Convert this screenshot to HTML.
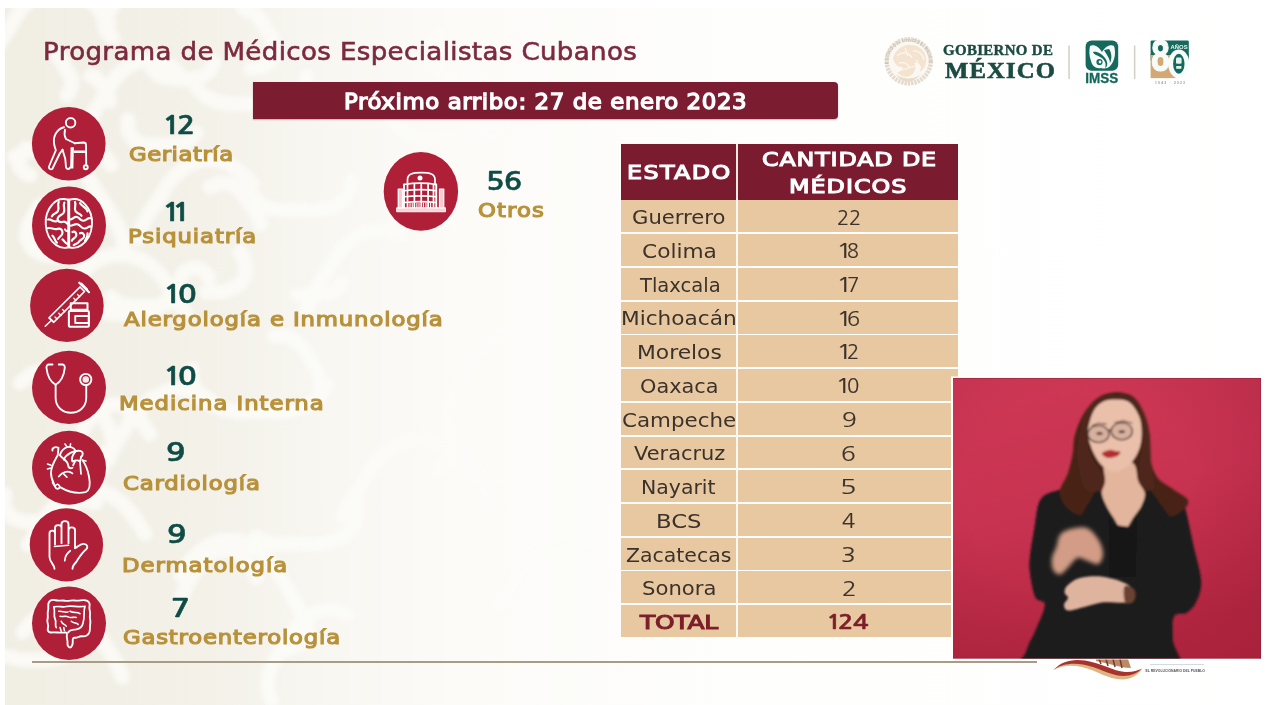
<!DOCTYPE html>
<html lang="es">
<head>
<meta charset="utf-8">
<title>Programa de Médicos Especialistas Cubanos</title>
<style>
html,body{margin:0;padding:0;background:#fff;}
body{width:1280px;height:705px;overflow:hidden;position:relative;font-family:'DejaVu Sans','Liberation Sans',sans-serif;}
#slide{position:absolute;left:0;top:0;width:1280px;height:705px;overflow:hidden;background:#fff;}
.t{position:absolute;margin:0;padding:0;line-height:1;white-space:nowrap;transform-origin:0 0;font-style:normal;display:block;}
svg{position:absolute;left:0;top:0;}
.banner{position:absolute;left:253px;top:82px;width:585px;height:37px;background:#7c1c31;border-radius:0 4px 4px 0;box-shadow:0 1px 1.5px rgba(120,30,50,.35);}
.thead{position:absolute;left:620.5px;top:143.5px;width:337.5px;height:56px;background:#7b1b30;}
.thead i{position:absolute;left:115.5px;top:0;width:1.6px;height:56px;background:#f6e9e4;}
.row{position:absolute;left:620.5px;width:337.5px;height:31.95px;background:#e8c8a0;}
.row i{position:absolute;left:115.5px;top:-1px;width:1.6px;height:35px;background:#fdf8f0;}
.rule{position:absolute;left:32px;top:661px;width:1005px;height:1.6px;background:#a89c84;}
ul,li{list-style:none;margin:0;padding:0;}
</style>
</head>
<body>
<div id="slide">

<svg id="bg" width="1280" height="705" viewBox="0 0 1280 705">
<defs>
<linearGradient id="bgg" x1="0" x2="1" y1="0" y2="0">
<stop offset="0" stop-color="#f1eee4"/><stop offset="0.16" stop-color="#f3f1e8"/><stop offset="0.26" stop-color="#f8f7f2"/><stop offset="0.36" stop-color="#fcfbf8"/><stop offset="0.6" stop-color="#fefefd"/><stop offset="1" stop-color="#ffffff"/>
</linearGradient>
<linearGradient id="fade" x1="0" x2="1" y1="0" y2="0">
<stop offset="0" stop-color="#fff" stop-opacity="0.75"/><stop offset="0.22" stop-color="#fff" stop-opacity="0.7"/><stop offset="0.4" stop-color="#fff" stop-opacity="0.3"/><stop offset="0.55" stop-color="#fff" stop-opacity="0"/>
</linearGradient>
<mask id="pm" maskUnits="userSpaceOnUse" x="0" y="0" width="1280" height="705"><rect x="5" y="8" width="1270" height="697" fill="url(#fade)"/></mask>
<filter id="bblur" x="-5%" y="-5%" width="110%" height="110%"><feGaussianBlur stdDeviation="2.2"/></filter>
</defs>
<rect x="5" y="8" width="1270" height="697" fill="url(#bgg)"/>
<g mask="url(#pm)"><path d="M-2 45 L4 36 L10 27 L15 18 L22 8 L32 -1 L44 -8 L58 -11 L72 -9 L85 -3 L95 5 L103 15 L109 24 M92 151 L87 139 L88 126 L93 114 L99 104 L105 95 L110 86 L117 76 L127 67 L139 61 L154 60 L167 64 L178 72 M307 76 L304 87 L296 96 L285 101 L273 103 L261 104 L251 104 L241 104 L230 104 L218 102 L206 97 L197 89 L193 78 M14 157 L29 151 L45 150 L61 154 L74 162 L84 172 L92 184 L98 194 L105 204 L112 215 L118 226 L123 240 L123 255 M137 239 L142 226 L148 215 L155 205 L161 196 L167 185 L176 175 L187 166 L201 160 L217 160 L231 165 L243 174 L252 184 M352 180 L351 189 L346 198 L338 205 L327 209 L317 210 L308 210 L299 210 L290 210 L280 210 L269 208 L260 203 L252 196 M61 304 L67 293 L74 282 L83 271 L95 261 L111 255 L127 255 L143 260 L156 270 L165 281 L172 292 L179 302 L186 313 M327 385 L319 398 L307 406 L292 411 L278 412 L265 412 L253 412 L239 412 L225 410 L211 405 L199 396 L193 383 L192 369 M20 383 L31 374 L45 370 L59 371 L72 376 L82 385 L89 395 L95 404 L100 413 L107 423 L112 435 L113 447 L108 460 M97 497 L97 481 L102 466 L109 453 L117 442 L124 431 L131 419 L141 407 L154 397 L170 390 L188 390 L204 396 L218 406 M355 500 L358 511 L356 521 L351 531 L341 538 L330 542 L319 544 L308 544 L299 544 L289 544 L278 544 L266 542 L256 537 M28 545 L35 535 L41 526 L47 515 L56 505 L67 496 L81 490 L97 490 L111 495 L123 504 L132 514 L139 524 L145 534 M181 576 L187 565 L196 555 L207 546 L221 540 L237 540 L251 545 L263 554 L272 564 L279 574 L285 584 L291 594 L298 605 M23 632 L30 623 L40 615 L53 610 L66 610 L78 614 L88 622 L96 631 L102 640 L107 648 L112 656 L118 666 L122 677 M272 701 L268 690 L268 678 L271 667 L277 657 L283 649 L288 641 L293 632 L300 623 L310 615 L323 610 L336 610 L348 614 M307 309 L311 298 L316 289 L321 280 L327 272 L332 264 L337 255 L344 247 L353 239 L364 232 L376 230 L389 230 L401 235 M342 516 L349 503 L357 492 L364 481 L371 469 L381 457 L394 447 L410 440 L428 440 L444 446 L458 456 L468 468 L475 479 M505 124 L496 131 L485 136 L474 137 L463 138 L453 138 L443 138 L433 138 L422 137 L410 134 L400 129 L392 120 L388 110 M463 447 L454 437 L448 426 L447 413 L450 401 L455 390 L461 380 L467 371 L473 362 L479 353 L487 343 L498 335 L511 330 M498 605 L504 596 L510 587 L515 578 L522 568 L532 559 L544 552 L558 549 L572 551 L585 557 L595 565 L603 575 L609 584 M196 133 L188 142 L177 145 L166 145 L156 145 L145 145 L134 140 L128 131 L128 120 M214 62 L211 70 L203 76 L194 79 L185 79 L177 79 L168 78 L159 76 L152 69 M56 54 L60 59 L63 63 L65 68 L68 72 L71 77 L72 83 L71 89 L67 95 M83 430 L88 421 L95 412 L105 406 L118 404 L130 409 L139 417 L144 426 L150 434 M460 78 L452 77 L443 75 L435 70 L430 63 L428 54 L431 46 L435 39 L439 33 M81 256 L69 256 L57 256 L44 255 L32 249 L26 237 L28 225 L34 215 L40 206 M342 282 L339 288 L334 292 L327 294 L321 295 L315 295 L309 295 L303 295 L297 295 M96 503 L86 501 L79 494 L77 485 L81 476 L85 470 L90 463 L97 456 L106 453 M210 187 L220 183 L230 184 L239 189 L245 196 L249 203 L254 209 L258 216 L261 224 M274 336 L286 336 L296 341 L303 348 L308 356 L312 363 L317 371 L320 380 L320 390 M472 68 L479 70 L484 73 L488 78 L491 83 L494 87 L497 92 L499 98 L500 104 M243 8 L254 13 L262 22 L267 30 L272 38 L275 49 L272 60 L263 67 L251 69 M396 215 L402 206 L410 198 L423 195 L435 199 L443 208 L448 216 L454 225 L458 235 M182 597 L187 584 L194 573 L201 563 L212 553 L228 550 L242 556 L251 567 L257 577 M71 494 L73 507 L65 518 L51 522 L39 522 L26 522 L12 518 L4 507 L5 494 M179 284 L178 294 L171 302 L160 306 L150 306 L140 306 L130 306 L119 304 L111 297 M91 76 L96 78 L99 81 L101 84 L103 87 L105 90 L107 93 L109 97 L109 101 M164 302 L155 310 L143 313 L132 314 L121 314 L109 313 L97 310 L88 302 L86 290 M291 596 L296 603 L300 610 L305 618 L308 627 L306 636 L300 644 L290 649 L280 650 M240 252 L244 259 L246 268 L245 277 L240 284 L232 289 L223 292 L214 292 L206 292 M69 176 L72 169 L76 163 L79 158 L85 152 L94 150 L102 153 L107 159 L111 165 M113 38 L106 31 L104 22 L108 13 L112 7 L116 -0 L123 -7 L132 -10 L142 -8 M438 471 L444 463 L454 458 L466 459 L475 467 L480 475 L485 483 L490 492 L488 503 M59 610 L66 620 L72 631 L73 645 L63 657 L48 660 L35 660 L21 660 L6 656 M182 276 L184 272 L188 270 L192 268 L196 268 L201 269 L204 272 L207 275 L209 278 M30 175 L25 173 L22 170 L19 167 L19 162 L20 158 L22 154 L24 151 L26 148" fill="none" stroke="#fdfdfb" stroke-width="15" stroke-linecap="round" stroke-linejoin="round" filter="url(#bblur)"/></g>
</svg>
<header>
<h1 class="t" style="left:43.0px;top:39.95px;font-family:'DejaVu Sans','Liberation Sans',sans-serif;font-weight:400;font-size:24.82px;color:#7c2a3e;letter-spacing:0.357px;transform:scaleX(1.05);-webkit-text-stroke:0.6px #7c2a3e;">Programa de Médicos Especialistas Cubanos</h1>
<svg id="logos" width="1280" height="705" viewBox="0 0 1280 705" font-family="'Liberation Sans','DejaVu Sans',sans-serif">
<defs>
<path id="sealarc" d="M 888.5 66 A 20.6 20.6 0 1 1 929 66"/>
<filter id="lsoft" x="-10%" y="-10%" width="120%" height="120%"><feGaussianBlur stdDeviation="0.45"/></filter>
</defs>
<g filter="url(#lsoft)">
<circle cx="908.7" cy="61.3" r="24.3" fill="#fbf8f3"/>
<circle cx="908.7" cy="61.3" r="22" fill="none" stroke="#e1dace" stroke-width="4.4" stroke-dasharray="2.2 1.1"/>
<text font-size="4.6" font-weight="700" fill="#c9bfae" letter-spacing="0.55"><textPath href="#sealarc" startOffset="2">ESTADOS UNIDOS MEXICANOS</textPath></text>
<path d="M893 58 C896 49 904 44 911 45 C918 45 925 50 926 58 C927 64 924 70 920 72 C922 66 918 62 914 63 C917 67 915 73 910 76 C906 78 900 76 897 72 C900 72 903 70 903 67 C899 68 894 64 893 58 Z" fill="#f3e3cf"/>
<path d="M896 74 C902 80 916 80 922 73 C918 78 912 82 908 82 C903 82 898 78 896 74 Z" fill="#e9dcc4"/>
<path d="M897 56 C902 51 909 52 912 58 M913 51 C918 50 923 54 924 60 M899 63 C904 62 908 64 910 68 M902 70 L915 66 M905 48 L908 56 M916 60 L921 68" fill="none" stroke="#fbf6ee" stroke-width="1.3"/>
</g>
<rect x="1068.3" y="45.5" width="1.5" height="33.5" fill="#d3cfc8"/>
<rect x="1133.9" y="45.5" width="1.5" height="33.5" fill="#d3cfc8"/>
<g filter="url(#lsoft)">
<rect x="1085.6" y="40.6" width="32.6" height="30.2" rx="6" fill="#12695b"/>
<path d="M1090 46 C1094 44 1099 47 1102 52 C1105 47 1110 44 1114 46 C1116 52 1115 60 1111 65 C1108 69 1104 69 1101 68 C1096 69 1092 66 1091 61 C1089 56 1089 50 1090 46 Z" fill="#f4fbf8"/>
<path d="M1093 52 C1097 51 1102 54 1105 58 C1108 62 1108 66 1105 68 C1107 63 1104 59 1100 57 C1097 55 1094 55 1093 52 Z" fill="#12695b"/>
<path d="M1104 50 C1106 54 1110 58 1110 63 C1112 59 1112 53 1109 49 Z" fill="#12695b"/>
<circle cx="1099.5" cy="62" r="3.1" fill="#12695b"/>
<circle cx="1100" cy="62" r="1.4" fill="#f4fbf8"/>
</g>
<text x="1085.3" y="82.7" font-size="15.2" font-weight="700" fill="#12695b" stroke="#12695b" stroke-width="0.3" textLength="33" lengthAdjust="spacingAndGlyphs">IMSS</text>
<g filter="url(#lsoft)">
<rect x="1150.6" y="40.6" width="38.2" height="15.4" rx="1.2" fill="#12695b"/>
<rect x="1150.6" y="54.5" width="38.2" height="6" fill="#12695b"/>
<rect x="1150.6" y="55" width="25" height="23.1" fill="#d4a874"/>
</g>
<text x="1151.2" y="71.4" font-size="43.5" font-weight="700" fill="#f7fcfa" stroke="#f7fcfa" stroke-width="1.2" textLength="18.5" lengthAdjust="spacingAndGlyphs">8</text>
<g filter="url(#lsoft)">
<ellipse cx="1178.8" cy="63.8" rx="10.6" ry="14.3" fill="#f7fcfa"/>
<ellipse cx="1178.8" cy="63.8" rx="5.7" ry="10" fill="#12695b"/>
<rect x="1176" y="57.6" width="5.6" height="6.2" rx="1.3" fill="#e4f2ec"/>
<rect x="1176.2" y="66" width="5.2" height="2.8" fill="#e4f2ec"/>
</g>
<text x="1170.6" y="48.7" font-size="5.3" font-weight="700" fill="#eef7f3" textLength="17" lengthAdjust="spacingAndGlyphs">AÑOS</text>
<text x="1155" y="83.6" font-size="3.4" font-weight="700" fill="#9a9a98" textLength="30" lengthAdjust="spacing">1943 · 2023</text>
</svg>
<span class="t" style="left:943.4px;top:43.53px;font-family:'Liberation Serif','DejaVu Serif',serif;font-weight:700;font-size:13.82px;color:#1b4b41;letter-spacing:0.315px;transform:scaleX(1.08);-webkit-text-stroke:0.4px #1b4b41;">GOBIERNO DE</span>
<span class="t" style="left:944.7px;top:60.12px;font-family:'Liberation Serif','DejaVu Serif',serif;font-weight:700;font-size:22.03px;color:#1b4b41;letter-spacing:1.054px;transform:scaleX(1.12);-webkit-text-stroke:0.6px #1b4b41;">MÉXICO</span>
</header>
<div class="banner"></div>
<span class="t" style="left:343.5px;top:91.85px;font-family:'DejaVu Sans','Liberation Sans',sans-serif;font-weight:400;font-size:20.77px;color:#fff;letter-spacing:0.543px;transform:scaleX(1.1);-webkit-text-stroke:1.3px #fff;">Próximo arribo: 27 de enero 2023</span>
<section class="specialties"><ul>
<svg id="icons" width="1280" height="705" viewBox="0 0 1280 705"><ellipse cx="68.75" cy="143.75" rx="36.85" ry="36.85" fill="#af1f38"/>
<g transform="translate(0 100) scale(0.125)" fill="none" stroke="#fff" stroke-width="15" stroke-linecap="round" stroke-linejoin="round">
<circle cx="565" cy="182" r="38"/>
<path d="M512 218 C462 228 424 282 432 345 C435 372 442 388 447 402 L392 532 C388 548 402 560 418 552 L478 428 L500 398"/>
<path d="M500 398 L522 470 L528 538 C532 556 556 556 560 540"/>
<path d="M520 238 C514 262 516 290 528 312 L598 346"/>
<path d="M598 346 L668 340 C682 340 688 348 688 360 L690 520"/>
<circle cx="686" cy="538" r="16"/>
<path d="M578 378 L574 548" stroke-width="26" stroke-linecap="butt"/>
<path d="M590 414 L686 414" stroke-width="20" stroke-linecap="butt"/>
</g>
<ellipse cx="69" cy="225.4" rx="37" ry="39" fill="#af1f38"/>
<g transform="translate(0 182) scale(0.125)" fill="none" stroke="#fff" stroke-width="15" stroke-linecap="round" stroke-linejoin="round">
<path d="M546 142 C500 128 452 140 418 180 C380 222 362 280 366 340 C370 410 400 470 450 505 C480 526 520 530 546 522 Z" stroke-width="15"/>
<path d="M554 142 C600 128 648 140 682 180 C720 222 740 280 736 340 C732 410 702 470 652 505 C622 526 582 530 554 522 Z" stroke-width="15"/>
<path d="M550 140 L550 524" stroke-width="15"/>
<path d="M470 160 C455 190 480 205 462 235 C450 255 425 250 415 275 M515 165 C500 195 525 215 510 245 C498 268 470 262 462 290 C455 315 480 325 505 318 C525 312 535 330 545 340 M385 300 C410 295 425 320 450 315 M380 370 C410 360 430 385 460 375 C485 367 500 385 500 405 C500 430 475 435 465 455 M420 430 C440 445 435 470 455 485 M500 460 C515 470 520 490 540 495 M520 380 C530 395 540 395 548 392" stroke-width="17.5"/>
<path d="M600 160 C612 190 588 205 605 235 C618 255 640 248 652 270 M640 170 C655 195 690 200 700 235 M560 300 C585 300 590 275 615 280 C640 285 640 310 665 310 C690 310 700 285 722 290 M560 350 C590 350 600 330 625 340 C650 350 650 375 680 372 C700 370 710 350 730 355 M580 400 C600 390 615 410 610 430 C605 450 580 450 575 470 M640 410 C660 400 680 420 672 440 C665 460 640 460 630 480 C622 495 600 495 590 505 M700 410 C705 430 690 450 680 470" stroke-width="17.5"/>
</g>
<ellipse cx="66.9" cy="305.4" rx="36.8" ry="36.6" fill="#af1f38"/>
<g transform="translate(0 262) scale(0.125)" fill="none" stroke="#fff" stroke-width="15" stroke-linecap="round" stroke-linejoin="round">
<path d="M362 514 L412 466" stroke-width="12.5"/>
<path d="M392 446 L640 200 L676 236 L430 482 Z" stroke-width="13.8"/>
<path d="M634 166 L712 242" stroke-width="17.5"/>
<path d="M652 170 L700 218" stroke-width="10"/>
<path d="M470 410 L488 428 M500 380 L518 398 M590 290 L608 308 M620 260 L638 278 M440 440 L456 456" stroke-width="10"/>
<rect x="566" y="330" width="134" height="52" stroke-width="16.2"/>
<rect x="551" y="392" width="160" height="126" rx="8" stroke-width="16.2"/>
<rect x="602" y="432" width="108" height="56" stroke-width="15"/>
</g>
<ellipse cx="69" cy="387.4" rx="37" ry="36.6" fill="#af1f38"/>
<g transform="translate(0 344) scale(0.125)" fill="none" stroke="#fff" stroke-width="15" stroke-linecap="round" stroke-linejoin="round">
<path d="M420 164 L392 164 C378 164 370 176 372 192 C378 250 400 300 445 326 C490 300 512 250 518 192 C520 176 512 164 498 164 L470 164"/>
<path d="M445 326 L445 430 C445 590 690 590 690 430 L690 330"/>
<circle cx="686" cy="284" r="45" />
<circle cx="686" cy="284" r="26" fill="#fbe9ea" stroke="none"/>
</g>
<ellipse cx="69" cy="467.75" rx="37" ry="36.9" fill="#af1f38"/>
<g transform="translate(0 424) scale(0.125)" fill="none" stroke="#fff" stroke-width="15" stroke-linecap="round" stroke-linejoin="round">
<path d="M420 212 C415 190 440 178 468 190 L462 250 C440 290 410 330 408 390 C406 440 430 470 440 500 C450 530 470 520 480 505 C540 540 620 560 685 545 C720 530 722 470 712 420 C702 370 690 330 660 290"/>
<path d="M440 500 L420 470 M480 505 C470 480 455 470 440 500" stroke-width="12.5"/>
<path d="M480 250 C490 200 540 170 580 190 C600 200 605 215 600 225"/>
<path d="M510 285 C530 240 590 210 640 215 C670 220 665 250 650 262"/>
<path d="M520 160 L535 182 M565 158 L560 182" stroke-width="12.5"/>
<path d="M480 250 C500 280 540 290 545 330 C548 350 560 360 580 350"/>
<path d="M600 225 C580 250 570 280 580 300 C600 290 620 285 640 300 L650 262"/>
<path d="M640 300 L648 400 M600 300 L585 330" stroke-width="13.8"/>
<path d="M470 420 C500 380 550 370 580 395 M510 400 L535 425" stroke-width="13.8"/>
<path d="M380 320 L408 330 M380 360 L408 352 M660 290 L688 296" stroke-width="12.5"/>
</g>
<ellipse cx="66.4" cy="544.8" rx="36.7" ry="36.6" fill="#af1f38"/>
<g transform="translate(0 502) scale(0.125)" fill="none" stroke="#fff" stroke-width="15" stroke-linecap="round" stroke-linejoin="round">
<path d="M436 534 C436 500 396 480 396 440 L396 250 C396 222 440 222 440 250 L440 340 M440 250 L440 205 C440 178 492 178 492 205 L492 330 M492 205 L492 175 C492 145 548 145 548 175 L548 330 M548 225 C548 195 600 195 600 225 L600 370 C630 350 650 330 672 335 C700 340 706 362 690 378 C650 410 630 450 610 480 C590 500 580 510 580 534"/>
<path d="M436 356 L548 346" stroke-width="13.8"/>
<path d="M562 390 C535 410 520 440 518 470" stroke-width="13.8"/>
</g>
<ellipse cx="69" cy="623.25" rx="37" ry="36.75" fill="#af1f38"/>
<g transform="translate(0 580) scale(0.125)" fill="none" stroke="#fff" stroke-width="15" stroke-linecap="round" stroke-linejoin="round">
<path d="M520 420 C480 425 440 415 410 420 C385 422 378 400 384 380 C392 355 372 340 380 315 C388 290 376 270 384 245 C392 220 380 200 390 180 C400 160 420 155 445 162 C470 170 495 160 520 166 C550 172 575 158 600 164 C630 170 655 158 680 162 C710 166 722 185 716 210 C710 235 726 255 720 280 C714 305 728 325 722 350 C716 375 726 400 712 425 C700 445 680 455 655 450 C635 446 620 465 600 462 C585 460 580 470 582 490 C584 515 572 540 560 540 C545 540 538 520 540 500 C542 480 530 460 535 440 C538 425 530 418 520 420 Z" stroke-width="15"/>
<path d="M430 215 C470 205 500 222 530 212 C570 200 620 220 680 210 M430 215 C445 250 425 280 440 310 C455 340 435 360 450 380 M680 210 C665 250 680 300 665 340 C660 370 640 390 610 395 C585 400 560 395 545 420" stroke-width="13.8"/>
<path d="M470 250 C500 245 520 265 545 255 M480 290 C510 300 520 280 545 295 C570 310 590 290 610 300 M490 330 C500 360 520 350 530 370 M560 250 C590 270 620 250 640 270 M570 330 C590 350 610 340 625 355 M480 380 L490 410 M510 380 L515 405" stroke-width="12.5"/>
</g>
<ellipse cx="420.9" cy="191.4" rx="37.2" ry="39.4" fill="#af1f38"/>
<g transform="translate(340 147) scale(0.125)" fill="none" stroke="#fff" stroke-width="15" stroke-linecap="round" stroke-linejoin="round">
<rect x="456" y="486" width="388" height="32" fill="#f7d5d8" stroke="#fff" stroke-width="7.5"/>
<rect x="466" y="336" width="34" height="150" fill="#f5c9cd" stroke="#fff" stroke-width="10"/>
<rect x="796" y="336" width="34" height="150" fill="#f5c9cd" stroke="#fff" stroke-width="10"/>
<path d="M512 486 L512 300 M770 486 L770 300" stroke-width="15"/>
<path d="M540 300 L540 262 C540 215 580 205 650 205 C720 205 760 215 760 262 L760 300" stroke-width="13.8"/>
<circle cx="640" cy="248" r="20" fill="#fff" stroke="none"/>
<path d="M540 486 L540 300 M595 486 L595 300 M650 486 L650 300 M705 486 L705 300 M748 486 L748 300" stroke-width="13.8"/>
<path d="M512 300 C600 285 690 285 770 300 M512 350 C600 338 690 338 770 350 M512 398 C600 388 690 388 770 398 M512 444 C600 436 690 436 770 444" stroke-width="13.8"/>
<path d="M560 486 L560 450 M578 486 L578 450 M615 486 L615 450 M632 486 L632 450 M668 486 L668 450 M688 486 L688 450 M725 486 L725 450" stroke-width="8.8"/>
</g></svg>
<li><b><span class="t" style="left:161.8px;top:113.28px;font-family:'NanumGothic','Liberation Sans',sans-serif;font-weight:700;font-size:25.23px;color:#0e4c45;transform:scaleX(1.2357);-webkit-text-stroke:0.5px #0e4c45;">1</span><span class="t" style="left:176.75px;top:113.28px;font-family:'NanumGothic','Liberation Sans',sans-serif;font-weight:700;font-size:25.23px;color:#0e4c45;transform:scaleX(1.1875);-webkit-text-stroke:0.5px #0e4c45;">2</span></b><span class="t" style="left:128.5px;top:145.2px;font-family:'DejaVu Sans','Liberation Sans',sans-serif;font-weight:400;font-size:19.29px;color:#b8913a;letter-spacing:0.456px;transform:scaleX(1.18);-webkit-text-stroke:1.15px #b8913a;">Geriatría</span></li>
<li><b><span class="t" style="left:162.25px;top:200.08px;font-family:'NanumGothic','Liberation Sans',sans-serif;font-weight:700;font-size:25.23px;color:#0e4c45;transform:scaleX(1.2357);-webkit-text-stroke:0.5px #0e4c45;">1</span><span class="t" style="left:172.35px;top:200.08px;font-family:'NanumGothic','Liberation Sans',sans-serif;font-weight:700;font-size:25.23px;color:#0e4c45;transform:scaleX(1.2357);-webkit-text-stroke:0.5px #0e4c45;">1</span></b><span class="t" style="left:128.0px;top:227.1px;font-family:'DejaVu Sans','Liberation Sans',sans-serif;font-weight:400;font-size:19.29px;color:#b8913a;letter-spacing:0.763px;transform:scaleX(1.18);-webkit-text-stroke:1.15px #b8913a;">Psiquiatría</span></li>
<li><b><span class="t" style="left:162.7px;top:281.78px;font-family:'NanumGothic','Liberation Sans',sans-serif;font-weight:700;font-size:25.23px;color:#0e4c45;transform:scaleX(1.2357);-webkit-text-stroke:0.5px #0e4c45;">1</span><span class="t" style="left:177.75px;top:281.78px;font-family:'NanumGothic','Liberation Sans',sans-serif;font-weight:700;font-size:25.23px;color:#0e4c45;transform:scaleX(1.2192);-webkit-text-stroke:0.5px #0e4c45;">0</span></b><span class="t" style="left:123.7px;top:310.3px;font-family:'DejaVu Sans','Liberation Sans',sans-serif;font-weight:400;font-size:19.29px;color:#b8913a;letter-spacing:0.743px;transform:scaleX(1.18);-webkit-text-stroke:1.15px #b8913a;">Alergología e Inmunología</span></li>
<li><b><span class="t" style="left:162.7px;top:364.18px;font-family:'NanumGothic','Liberation Sans',sans-serif;font-weight:700;font-size:25.23px;color:#0e4c45;transform:scaleX(1.2357);-webkit-text-stroke:0.5px #0e4c45;">1</span><span class="t" style="left:177.75px;top:364.18px;font-family:'NanumGothic','Liberation Sans',sans-serif;font-weight:700;font-size:25.23px;color:#0e4c45;transform:scaleX(1.2192);-webkit-text-stroke:0.5px #0e4c45;">0</span></b><span class="t" style="left:118.5px;top:394.0px;font-family:'DejaVu Sans','Liberation Sans',sans-serif;font-weight:400;font-size:19.29px;color:#b8913a;letter-spacing:0.819px;transform:scaleX(1.18);-webkit-text-stroke:1.15px #b8913a;">Medicina Interna</span></li>
<li><b><span class="t" style="left:166.0px;top:440.48px;font-family:'NanumGothic','Liberation Sans',sans-serif;font-weight:700;font-size:25.23px;color:#0e4c45;transform:scaleX(1.2692);-webkit-text-stroke:0.5px #0e4c45;">9</span></b><span class="t" style="left:123.25px;top:474.0px;font-family:'DejaVu Sans','Liberation Sans',sans-serif;font-weight:400;font-size:19.29px;color:#b8913a;letter-spacing:0.72px;transform:scaleX(1.18);-webkit-text-stroke:1.15px #b8913a;">Cardiología</span></li>
<li><b><span class="t" style="left:167.4px;top:522.18px;font-family:'NanumGothic','Liberation Sans',sans-serif;font-weight:700;font-size:25.23px;color:#0e4c45;transform:scaleX(1.2692);-webkit-text-stroke:0.5px #0e4c45;">9</span></b><span class="t" style="left:122.4px;top:556.1px;font-family:'DejaVu Sans','Liberation Sans',sans-serif;font-weight:400;font-size:19.29px;color:#b8913a;letter-spacing:0.836px;transform:scaleX(1.18);-webkit-text-stroke:1.15px #b8913a;">Dermatología</span></li>
<li><b><span class="t" style="left:170.7px;top:596.38px;font-family:'NanumGothic','Liberation Sans',sans-serif;font-weight:700;font-size:25.23px;color:#0e4c45;transform:scaleX(1.2308);-webkit-text-stroke:0.5px #0e4c45;">7</span></b><span class="t" style="left:123.1px;top:627.7px;font-family:'DejaVu Sans','Liberation Sans',sans-serif;font-weight:400;font-size:19.29px;color:#b8913a;letter-spacing:0.683px;transform:scaleX(1.18);-webkit-text-stroke:1.15px #b8913a;">Gastroenterología</span></li>
<li><b><span class="t" style="left:485.75px;top:169.33px;font-family:'NanumGothic','Liberation Sans',sans-serif;font-weight:700;font-size:25.23px;color:#0e4c45;transform:scaleX(1.2042);-webkit-text-stroke:0.5px #0e4c45;">5</span><span class="t" style="left:504.0px;top:169.33px;font-family:'NanumGothic','Liberation Sans',sans-serif;font-weight:700;font-size:25.23px;color:#0e4c45;transform:scaleX(1.1731);-webkit-text-stroke:0.5px #0e4c45;">6</span></b><span class="t" style="left:477.75px;top:201.0px;font-family:'DejaVu Sans','Liberation Sans',sans-serif;font-weight:400;font-size:19.29px;color:#b8913a;letter-spacing:0.953px;transform:scaleX(1.18);-webkit-text-stroke:1.15px #b8913a;">Otros</span></li>
</ul></section>
<section class="table">
<div class="thead"><i></i></div>
<span class="t" style="left:626.75px;top:163.46px;font-family:'DejaVu Sans','Liberation Sans',sans-serif;font-weight:400;font-size:19.21px;color:#fff;letter-spacing:1.129px;transform:scaleX(1.24);-webkit-text-stroke:1.1px #fff;">ESTADO</span>
<span class="t" style="left:761.5px;top:150.06px;font-family:'DejaVu Sans','Liberation Sans',sans-serif;font-weight:400;font-size:19.21px;color:#fff;letter-spacing:0.685px;transform:scaleX(1.24);-webkit-text-stroke:1.1px #fff;">CANTIDAD DE</span>
<span class="t" style="left:789.0px;top:177.06px;font-family:'DejaVu Sans','Liberation Sans',sans-serif;font-weight:400;font-size:19.21px;color:#fff;letter-spacing:0.806px;transform:scaleX(1.24);-webkit-text-stroke:1.1px #fff;">MÉDICOS</span>
<div class="row" style="top:200.40px"><i></i></div>
<div class="row" style="top:234.13px"><i></i></div>
<div class="row" style="top:267.86px"><i></i></div>
<div class="row" style="top:301.59px"><i></i></div>
<div class="row" style="top:335.32px"><i></i></div>
<div class="row" style="top:369.05px"><i></i></div>
<div class="row" style="top:402.78px"><i></i></div>
<div class="row" style="top:436.51px"><i></i></div>
<div class="row" style="top:470.24px"><i></i></div>
<div class="row" style="top:503.97px"><i></i></div>
<div class="row" style="top:537.70px"><i></i></div>
<div class="row" style="top:571.43px"><i></i></div>
<div class="row" style="top:605.16px"><i></i></div>
<span class="t" style="left:631.5px;top:208.29px;font-family:'DejaVu Sans','Liberation Sans',sans-serif;font-weight:400;font-size:19.18px;color:#3b322b;transform:scaleX(1.1024);">Guerrero</span>
<span><span class="t" style="left:837.07px;top:208.52px;font-family:'NanumGothic','DejaVu Sans',sans-serif;font-weight:400;font-size:19.05px;color:#3b322b;transform:scaleX(1.0642);-webkit-text-stroke:0.15px #3b322b;">2</span><span class="t" style="left:849.35px;top:208.52px;font-family:'NanumGothic','DejaVu Sans',sans-serif;font-weight:400;font-size:19.05px;color:#3b322b;transform:scaleX(1.0642);-webkit-text-stroke:0.15px #3b322b;">2</span></span>
<span class="t" style="left:641.5px;top:242.02px;font-family:'DejaVu Sans','Liberation Sans',sans-serif;font-weight:400;font-size:19.18px;color:#3b322b;transform:scaleX(1.131);">Colima</span>
<span><span class="t" style="left:835.64px;top:242.25px;font-family:'NanumGothic','DejaVu Sans',sans-serif;font-weight:400;font-size:19.05px;color:#3b322b;transform:scaleX(1.4425);-webkit-text-stroke:0.15px #3b322b;">1</span><span class="t" style="left:847.11px;top:242.25px;font-family:'NanumGothic','DejaVu Sans',sans-serif;font-weight:400;font-size:19.05px;color:#3b322b;transform:scaleX(1.0258);-webkit-text-stroke:0.15px #3b322b;">8</span></span>
<span class="t" style="left:639.5px;top:275.75px;font-family:'DejaVu Sans','Liberation Sans',sans-serif;font-weight:400;font-size:19.18px;color:#3b322b;transform:scaleX(1.0195);">Tlaxcala</span>
<span><span class="t" style="left:835.91px;top:275.98px;font-family:'NanumGothic','DejaVu Sans',sans-serif;font-weight:400;font-size:19.05px;color:#3b322b;transform:scaleX(1.4425);-webkit-text-stroke:0.15px #3b322b;">1</span><span class="t" style="left:847.38px;top:275.98px;font-family:'NanumGothic','DejaVu Sans',sans-serif;font-weight:400;font-size:19.05px;color:#3b322b;transform:scaleX(1.0793);-webkit-text-stroke:0.15px #3b322b;">7</span></span>
<span class="t" style="left:620.5px;top:309.48px;font-family:'DejaVu Sans','Liberation Sans',sans-serif;font-weight:400;font-size:19.18px;color:#3b322b;transform:scaleX(1.1288);">Michoacán</span>
<span><span class="t" style="left:835.64px;top:309.71px;font-family:'NanumGothic','DejaVu Sans',sans-serif;font-weight:400;font-size:19.05px;color:#3b322b;transform:scaleX(1.4425);-webkit-text-stroke:0.15px #3b322b;">1</span><span class="t" style="left:847.11px;top:309.71px;font-family:'NanumGothic','DejaVu Sans',sans-serif;font-weight:400;font-size:19.05px;color:#3b322b;transform:scaleX(1.1398);-webkit-text-stroke:0.15px #3b322b;">6</span></span>
<span class="t" style="left:636.75px;top:343.21px;font-family:'DejaVu Sans','Liberation Sans',sans-serif;font-weight:400;font-size:19.18px;color:#3b322b;transform:scaleX(1.1373);">Morelos</span>
<span><span class="t" style="left:835.98px;top:343.44px;font-family:'NanumGothic','DejaVu Sans',sans-serif;font-weight:400;font-size:19.05px;color:#3b322b;transform:scaleX(1.4425);-webkit-text-stroke:0.15px #3b322b;">1</span><span class="t" style="left:847.45px;top:343.44px;font-family:'NanumGothic','DejaVu Sans',sans-serif;font-weight:400;font-size:19.05px;color:#3b322b;transform:scaleX(1.0642);-webkit-text-stroke:0.15px #3b322b;">2</span></span>
<span class="t" style="left:639.75px;top:376.94px;font-family:'DejaVu Sans','Liberation Sans',sans-serif;font-weight:400;font-size:19.18px;color:#3b322b;transform:scaleX(1.087);">Oaxaca</span>
<span><span class="t" style="left:835.43px;top:377.17px;font-family:'NanumGothic','DejaVu Sans',sans-serif;font-weight:400;font-size:19.05px;color:#3b322b;transform:scaleX(1.4425);-webkit-text-stroke:0.15px #3b322b;">1</span><span class="t" style="left:846.9px;top:377.17px;font-family:'NanumGothic','DejaVu Sans',sans-serif;font-weight:400;font-size:19.05px;color:#3b322b;transform:scaleX(1.0666);-webkit-text-stroke:0.15px #3b322b;">0</span></span>
<span class="t" style="left:621.5px;top:410.67px;font-family:'DejaVu Sans','Liberation Sans',sans-serif;font-weight:400;font-size:19.18px;color:#3b322b;transform:scaleX(1.1175);">Campeche</span>
<span><span class="t" style="left:842.25px;top:410.9px;font-family:'NanumGothic','DejaVu Sans',sans-serif;font-weight:400;font-size:19.05px;color:#3b322b;transform:scaleX(1.2778);-webkit-text-stroke:0.15px #3b322b;">9</span></span>
<span class="t" style="left:633.75px;top:444.4px;font-family:'DejaVu Sans','Liberation Sans',sans-serif;font-weight:400;font-size:19.18px;color:#3b322b;transform:scaleX(1.0904);">Veracruz</span>
<span><span class="t" style="left:841.25px;top:444.63px;font-family:'NanumGothic','DejaVu Sans',sans-serif;font-weight:400;font-size:19.05px;color:#3b322b;transform:scaleX(1.2778);-webkit-text-stroke:0.15px #3b322b;">6</span></span>
<span class="t" style="left:640.5px;top:478.13px;font-family:'DejaVu Sans','Liberation Sans',sans-serif;font-weight:400;font-size:19.18px;color:#3b322b;transform:scaleX(1.0662);">Nayarit</span>
<span><span class="t" style="left:840.25px;top:478.36px;font-family:'NanumGothic','DejaVu Sans',sans-serif;font-weight:400;font-size:19.05px;color:#3b322b;transform:scaleX(1.4375);-webkit-text-stroke:0.15px #3b322b;">5</span></span>
<span class="t" style="left:656.0px;top:511.86px;font-family:'DejaVu Sans','Liberation Sans',sans-serif;font-weight:400;font-size:19.18px;color:#3b322b;transform:scaleX(1.1857);">BCS</span>
<span><span class="t" style="left:842.25px;top:512.09px;font-family:'NanumGothic','DejaVu Sans',sans-serif;font-weight:400;font-size:19.05px;color:#3b322b;transform:scaleX(1.15);-webkit-text-stroke:0.15px #3b322b;">4</span></span>
<span class="t" style="left:626.0px;top:545.59px;font-family:'DejaVu Sans','Liberation Sans',sans-serif;font-weight:400;font-size:19.18px;color:#3b322b;transform:scaleX(1.067);">Zacatecas</span>
<span><span class="t" style="left:841.25px;top:545.82px;font-family:'NanumGothic','DejaVu Sans',sans-serif;font-weight:400;font-size:19.05px;color:#3b322b;transform:scaleX(1.2778);-webkit-text-stroke:0.15px #3b322b;">3</span></span>
<span class="t" style="left:641.5px;top:579.32px;font-family:'DejaVu Sans','Liberation Sans',sans-serif;font-weight:400;font-size:19.18px;color:#3b322b;transform:scaleX(1.1038);">Sonora</span>
<span><span class="t" style="left:842.25px;top:579.55px;font-family:'NanumGothic','DejaVu Sans',sans-serif;font-weight:400;font-size:19.05px;color:#3b322b;transform:scaleX(1.2778);-webkit-text-stroke:0.15px #3b322b;">2</span></span>
<span class="t" style="left:639.75px;top:612.86px;font-family:'DejaVu Sans','Liberation Sans',sans-serif;font-weight:400;font-size:19.21px;color:#7b1f2a;letter-spacing:-0.192px;transform:scaleX(1.3);-webkit-text-stroke:1.1px #7b1f2a;">TOTAL</span>
<b><span class="t" style="left:826.4px;top:612.63px;font-family:'NanumGothic','Liberation Sans',sans-serif;font-weight:700;font-size:19.97px;color:#7b1f2a;transform:scaleX(1.3);-webkit-text-stroke:0.4px #7b1f2a;">1</span><span class="t" style="left:837.6px;top:612.63px;font-family:'NanumGothic','Liberation Sans',sans-serif;font-weight:700;font-size:19.97px;color:#7b1f2a;transform:scaleX(1.27);-webkit-text-stroke:0.4px #7b1f2a;">2</span><span class="t" style="left:852.5px;top:612.63px;font-family:'NanumGothic','Liberation Sans',sans-serif;font-weight:700;font-size:19.97px;color:#7b1f2a;transform:scaleX(1.3);-webkit-text-stroke:0.4px #7b1f2a;">4</span></b>
</section>
<div class="rule"></div>
<footer><svg id="foot" width="1280" height="705" viewBox="0 0 1280 705" font-family="'Liberation Sans','DejaVu Sans',sans-serif">
<defs><filter id="fsoft" x="-10%" y="-30%" width="120%" height="160%"><feGaussianBlur stdDeviation="0.5"/></filter></defs>
<g filter="url(#fsoft)">
<path d="M1053 670.5 C1060 663 1070 659 1084 661.5 C1100 664 1112 673 1124 674 C1131 674.5 1137 672 1142 669 C1138 675 1131 679.5 1122 679.5 C1108 679.5 1096 670 1082 667 C1070 664.5 1060 666 1053 670.5 Z" fill="#dcb583"/>
<path d="M1054 669.5 C1061 662 1071 658.5 1085 660.5 C1101 663 1113 671 1125 672 C1132 672.5 1138 670.5 1142 668.5 C1138 673 1131 676 1123 676 C1109 675.5 1098 667 1083 664.5 C1071 662.5 1061 664.5 1054 669.5 Z" fill="#a8322f"/>
<path d="M1096 659 L1128 659 L1131 668 C1120 668 1108 663 1096 661 Z" fill="#b98a68"/>
<path d="M1099 659 L1101 664 M1106 659 L1108 666 M1113 659 L1115 667 M1120 659 L1122 668" stroke="#7c3a2c" stroke-width="1.5"/>
</g>
<rect x="1150" y="664" width="54" height="0.8" fill="#c9d2da"/>
<text x="1145.6" y="671.6" font-size="3.3" font-weight="700" fill="#55555a" textLength="59.4" lengthAdjust="spacingAndGlyphs">EL REVOLUCIONARIO DEL PUEBLO</text>
</svg></footer>
<svg id="video" width="1280" height="705" viewBox="0 0 1280 705">
<defs>
<linearGradient id="vbg" x1="0" y1="0" x2="0.25" y2="1"><stop offset="0" stop-color="#ce3855"/><stop offset="0.5" stop-color="#c83351"/><stop offset="1" stop-color="#b52741"/></linearGradient>
<radialGradient id="vig" cx="0.4" cy="0.4" r="0.8"><stop offset="0.45" stop-color="#8c1530" stop-opacity="0"/><stop offset="1" stop-color="#8c1530" stop-opacity="0.28"/></radialGradient>
<clipPath id="vclip"><rect x="953" y="378" width="308" height="280.5"/></clipPath>
<filter id="soft" x="-10%" y="-10%" width="120%" height="120%"><feGaussianBlur stdDeviation="1.0"/></filter>
<filter id="soft2" x="-20%" y="-20%" width="140%" height="140%"><feGaussianBlur stdDeviation="2"/></filter>
</defs>
<rect x="951" y="376.5" width="311.5" height="283" fill="#fff"/>
<rect x="953" y="378" width="308" height="280.5" fill="url(#vbg)"/>
<rect x="953" y="378" width="308" height="280.5" fill="url(#vig)"/>
<path d="M953 378.4 H1261 M1260.6 378 V658.5 M953 658.1 H1261" stroke="#7a2238" stroke-opacity="0.45" stroke-width="0.9" fill="none"/>
<g clip-path="url(#vclip)">
<g filter="url(#soft)">
<path d="M1040.2 500.0 C1043.9 493.8 1048.8 493.0 1056.5 490.7 C1064.2 488.4 1078.2 483.7 1086.7 486.0 C1095.2 488.3 1102.3 498.1 1107.7 504.7 C1113.1 511.3 1114.7 525.2 1119.3 525.6 C1123.9 526.0 1130.6 513.6 1135.6 507.0 C1140.6 500.4 1143.3 488.3 1149.5 486.0 C1155.7 483.7 1167.2 490.3 1172.8 493.0 C1178.4 495.7 1179.8 493.4 1183.3 502.3 C1186.8 511.2 1190.7 533.3 1193.7 546.5 C1196.7 559.7 1200.8 572.1 1201.2 581.4 C1201.6 590.7 1198.4 597.1 1196.0 602.3 C1193.6 607.5 1190.4 610.5 1186.7 612.8 C1183.0 615.1 1176.3 611.8 1174.0 616.3 C1171.7 620.8 1172.9 627.9 1172.8 639.5 C1172.7 651.1 1198.9 678.2 1173.3 686.0 C1147.7 693.8 1043.8 691.8 1019.3 686.0 C994.8 680.2 1023.6 660.5 1026.3 651.2 C1029.0 641.9 1032.5 638.0 1035.6 630.2 C1038.7 622.5 1044.9 610.1 1044.9 604.7 C1044.9 599.3 1038.0 602.4 1035.6 597.7 C1033.2 593.0 1031.5 583.3 1030.5 576.7 C1029.5 570.1 1029.1 566.2 1029.8 558.1 C1030.5 550.0 1032.7 537.6 1034.4 527.9 C1036.1 518.2 1036.5 506.2 1040.2 500.0 Z" fill="#1b1a1c"/>
<path d="M1115.4 392.3 C1121.4 392.1 1128.7 393.6 1133.3 396.9 C1137.9 400.1 1140.6 405.7 1143.3 411.8 C1146.0 417.9 1148.0 426.0 1149.2 433.6 C1150.4 441.2 1148.9 450.2 1150.2 457.5 C1151.5 464.8 1153.4 472.0 1157.2 477.3 C1161.0 482.6 1168.0 485.5 1173.1 489.3 C1178.2 493.1 1186.3 496.7 1188.0 500.2 C1189.7 503.7 1186.2 507.3 1183.0 510.1 C1179.8 512.9 1176.0 515.8 1169.1 517.1 C1162.1 518.4 1151.9 517.9 1141.3 518.1 C1130.7 518.3 1115.8 518.6 1105.5 518.1 C1095.2 517.6 1086.3 517.1 1079.7 515.1 C1073.1 513.1 1069.1 510.2 1065.8 506.2 C1062.5 502.2 1059.5 496.8 1059.8 491.3 C1060.1 485.8 1065.6 479.7 1067.8 473.4 C1070.0 467.1 1071.5 459.8 1072.7 453.5 C1073.9 447.2 1072.9 442.2 1074.7 435.6 C1076.5 429.0 1079.8 420.1 1083.6 413.8 C1087.4 407.5 1092.3 401.5 1097.6 397.9 C1102.9 394.3 1109.5 392.5 1115.4 392.3 Z" fill="#4a2419"/>
<path d="M1096.6 489.3 L1101.9 494.2 L1106.5 505.2 L1113.4 517.1 L1123.4 532.0 L1109.5 540.9 L1077.7 521.1 Z" fill="#1b1a1c"/><path d="M1149.2 488.3 L1144.8 494.2 L1141.7 505.2 L1133.7 517.1 L1123.4 532.0 L1141.3 540.9 L1173.1 521.1 Z" fill="#1b1a1c"/>
<path d="M1105.5 461.4 C1110.0 458.2 1126.8 459.1 1132.3 462.4 C1137.8 465.7 1136.2 476.2 1138.3 481.3 C1140.4 486.4 1144.2 489.2 1144.8 493.2 C1145.4 497.2 1143.5 501.2 1141.7 505.2 C1139.9 509.2 1136.8 512.8 1133.7 517.1 C1130.7 521.4 1126.8 531.0 1123.4 531.0 C1120.0 531.0 1116.0 521.4 1113.1 517.1 C1110.2 512.8 1108.0 509.2 1106.1 505.2 C1104.2 501.2 1102.1 497.2 1101.9 493.2 C1101.7 489.2 1104.5 486.6 1105.1 481.3 C1105.7 476.0 1101.0 464.5 1105.5 461.4 Z" fill="#e3b59d"/>
<path d="M1108.8 516.3 L1112.3 524.4 L1133.3 527.4 L1136.7 516.3 L1135.6 576.7 L1110.0 576.7 Z" fill="#171618"/>
<path d="M1115.4 399.5 C1120.0 399.5 1125.4 399.5 1129.3 402.2 C1133.2 404.9 1136.8 410.9 1138.9 415.8 C1141.0 420.7 1141.6 426.3 1141.7 431.6 C1141.8 436.9 1141.3 442.5 1139.7 447.5 C1138.1 452.5 1135.5 457.6 1132.3 461.4 C1129.1 465.2 1124.2 468.9 1120.4 470.4 C1116.6 471.9 1113.2 471.9 1109.5 470.4 C1105.8 468.9 1101.7 465.5 1098.5 461.4 C1095.3 457.3 1092.4 450.9 1090.6 445.6 C1088.8 440.3 1087.5 435.0 1087.6 429.7 C1087.7 424.4 1088.9 418.4 1091.2 413.8 C1093.5 409.2 1097.5 404.6 1101.5 402.2 C1105.5 399.8 1110.8 399.5 1115.4 399.5 Z" fill="#eac0aa"/>
<path d="M1115.4 397.9 C1114.7 398.8 1108.8 398.6 1105.5 400.3 C1102.2 402.0 1098.2 404.2 1095.6 407.8 C1092.9 411.4 1091.0 416.7 1089.6 421.7 C1088.2 426.7 1087.3 432.6 1087.2 437.6 C1087.1 442.6 1087.4 446.9 1088.8 451.5 C1090.2 456.1 1093.1 461.1 1095.6 465.4 C1098.0 469.7 1102.5 473.3 1103.5 477.3 C1104.5 481.3 1104.5 487.3 1101.5 489.3 C1098.5 491.3 1089.6 494.6 1085.6 489.3 C1081.6 484.0 1078.7 466.1 1077.7 457.5 C1076.7 448.9 1078.7 444.2 1079.7 437.6 C1080.7 431.0 1081.3 423.7 1083.6 417.7 C1085.9 411.7 1089.3 405.6 1093.6 401.8 C1097.9 398.0 1105.9 395.5 1109.5 394.9 C1113.1 394.2 1116.1 397.0 1115.4 397.9 Z" fill="#4f281c"/>
<path d="M1115.4 397.9 C1116.4 398.7 1123.8 397.9 1127.4 399.5 C1131.1 401.1 1134.9 404.1 1137.3 407.8 C1139.7 411.5 1140.7 416.7 1141.7 421.7 C1142.7 426.7 1143.3 432.3 1143.3 437.6 C1143.3 442.9 1142.3 448.2 1141.7 453.5 C1141.1 458.8 1139.8 464.1 1139.7 469.4 C1139.6 474.7 1139.0 482.0 1141.3 485.3 C1143.5 488.6 1151.5 492.6 1153.2 489.3 C1154.9 486.0 1151.8 474.7 1151.2 465.4 C1150.6 456.1 1150.8 442.2 1149.6 433.6 C1148.4 425.0 1146.6 419.4 1144.2 413.8 C1141.8 408.2 1139.1 403.0 1135.3 399.9 C1131.5 396.8 1124.7 395.2 1121.4 394.9 C1118.1 394.6 1114.4 397.1 1115.4 397.9 Z" fill="#4f281c"/>
<path d="M1101.9 453.1 C1102.7 452.0 1107.2 450.2 1109.5 449.9 C1111.8 449.6 1113.6 450.8 1115.4 451.1 C1117.2 451.4 1120.1 451.1 1120.4 451.9 C1120.7 452.7 1119.2 454.9 1117.4 455.9 C1115.6 456.9 1111.7 457.8 1109.5 457.9 C1107.3 458.0 1105.8 457.3 1104.5 456.5 C1103.2 455.7 1101.1 454.2 1101.9 453.1 Z" fill="#b32d31"/>
<path d="M1091.6 425.7 1098.5 423.3 1106.5 424.1 M1114.4 422.7 1123.4 420.7 1132.3 423.3" fill="none" stroke="#5a3a30" stroke-width="1.1"/>
<ellipse cx="1098.5" cy="434.0" rx="10.6" ry="8.6" fill="rgba(150,120,120,.22)" stroke="#40302f" stroke-width="1.2"/>
<ellipse cx="1121.8" cy="431.2" rx="10.6" ry="8.6" fill="rgba(150,120,120,.22)" stroke="#40302f" stroke-width="1.2"/>
<path d="M1108.9 432.0 Q1110.15 428.0 1111.3999999999999 430.2" fill="none" stroke="#40302f" stroke-width="1.1"/>
<ellipse cx="1099.5" cy="433.5" rx="3.2" ry="1.3" fill="#3b2a25"/>
<ellipse cx="1121.8" cy="431.7" rx="3.2" ry="1.3" fill="#3b2a25"/>
</g>
<g filter="url(#soft2)">
<path d="M1060.0 534.9 C1062.3 532.0 1066.0 530.3 1070.5 529.1 C1075.0 527.9 1082.0 526.2 1086.7 527.9 C1091.4 529.6 1095.7 535.2 1098.4 539.5 C1101.1 543.8 1103.0 549.4 1103.0 553.5 C1103.0 557.6 1101.1 562.8 1098.4 564.0 C1095.7 565.2 1090.2 561.5 1086.7 560.5 C1083.2 559.5 1080.5 557.0 1077.4 558.1 C1074.3 559.2 1071.0 564.7 1068.1 567.4 C1065.2 570.1 1062.5 574.0 1060.0 574.4 C1057.5 574.8 1054.3 572.5 1053.0 569.8 C1051.7 567.1 1051.3 562.0 1051.9 558.1 C1052.5 554.2 1055.2 550.4 1056.5 546.5 C1057.8 542.6 1057.7 537.8 1060.0 534.9 Z" fill="#d29c86"/>
</g>
<g filter="url(#soft)">
<path d="M1067.0 586.0 C1069.5 583.5 1073.8 579.4 1079.8 577.9 C1085.8 576.4 1095.2 575.7 1103.0 576.7 C1110.8 577.7 1121.2 581.0 1126.3 583.7 C1131.3 586.4 1133.3 589.9 1133.3 593.0 C1133.3 596.1 1131.3 600.8 1126.3 602.3 C1121.2 603.8 1110.0 601.5 1103.0 602.3 C1096.0 603.1 1090.2 605.6 1084.4 607.0 C1078.6 608.4 1071.5 610.9 1068.1 610.5 C1064.7 610.1 1064.0 606.8 1064.0 604.7 C1064.0 602.6 1068.0 599.7 1068.1 597.7 C1068.2 595.8 1064.9 595.0 1064.7 593.0 C1064.5 591.0 1064.5 588.5 1067.0 586.0 Z" fill="#dfb49e"/>
<path d="M1124.4 586.5 C1125.8 584.2 1131.4 586.9 1133.3 588.4 C1135.2 589.9 1135.7 593.0 1135.6 595.3 C1135.5 597.6 1134.5 601.1 1132.8 602.3 C1131.0 603.5 1126.5 604.9 1125.1 602.3 C1123.7 599.7 1123.0 588.8 1124.4 586.5 Z" fill="#6a4230"/>
</g>
</g>
</svg>
</div>
</body>
</html>
